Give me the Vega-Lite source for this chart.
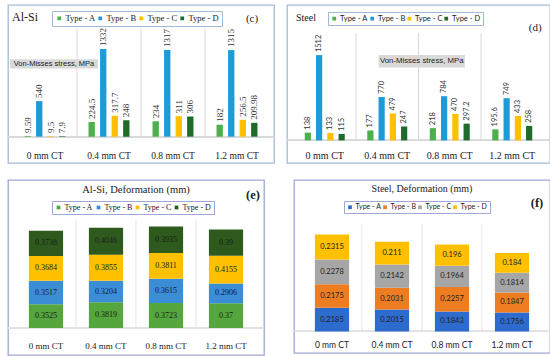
{
  "$schema": "https://vega.github.io/schema/vega-lite/v6.json",
  "background": "white",
  "padding": {"left": 6, "top": 4, "right": 0, "bottom": 0},
  "spacing": 15,
  "datasets": {
    "alsiStress": [
      {"ct": "0 mm CT", "type": "Type - A", "v": 9.59},
      {"ct": "0 mm CT", "type": "Type - B", "v": 540},
      {"ct": "0 mm CT", "type": "Type - C", "v": 9.5},
      {"ct": "0 mm CT", "type": "Type - D", "v": 7.9},
      {"ct": "0.4 mm CT", "type": "Type - A", "v": 224.5},
      {"ct": "0.4 mm CT", "type": "Type - B", "v": 1332},
      {"ct": "0.4 mm CT", "type": "Type - C", "v": 317.7},
      {"ct": "0.4 mm CT", "type": "Type - D", "v": 248},
      {"ct": "0.8 mm CT", "type": "Type - A", "v": 234},
      {"ct": "0.8 mm CT", "type": "Type - B", "v": 1317},
      {"ct": "0.8 mm CT", "type": "Type - C", "v": 311},
      {"ct": "0.8 mm CT", "type": "Type - D", "v": 306},
      {"ct": "1.2 mm CT", "type": "Type - A", "v": 182},
      {"ct": "1.2 mm CT", "type": "Type - B", "v": 1315},
      {"ct": "1.2 mm CT", "type": "Type - C", "v": 256.5},
      {"ct": "1.2 mm CT", "type": "Type - D", "v": 209.98}
    ],
    "steelStress": [
      {"ct": "0 mm CT", "type": "Type - A", "v": 138},
      {"ct": "0 mm CT", "type": "Type - B", "v": 1512},
      {"ct": "0 mm CT", "type": "Type - C", "v": 133},
      {"ct": "0 mm CT", "type": "Type - D", "v": 115},
      {"ct": "0.4 mm CT", "type": "Type - A", "v": 177},
      {"ct": "0.4 mm CT", "type": "Type - B", "v": 770},
      {"ct": "0.4 mm CT", "type": "Type - C", "v": 479},
      {"ct": "0.4 mm CT", "type": "Type - D", "v": 247},
      {"ct": "0.8 mm CT", "type": "Type - A", "v": 218},
      {"ct": "0.8 mm CT", "type": "Type - B", "v": 784},
      {"ct": "0.8 mm CT", "type": "Type - C", "v": 470},
      {"ct": "0.8 mm CT", "type": "Type - D", "v": 297.2},
      {"ct": "1.2 mm CT", "type": "Type - A", "v": 195.6},
      {"ct": "1.2 mm CT", "type": "Type - B", "v": 749},
      {"ct": "1.2 mm CT", "type": "Type - C", "v": 433},
      {"ct": "1.2 mm CT", "type": "Type - D", "v": 258}
    ],
    "alsiDef": [
      {"ct": "0 mm CT", "type": "Type - A", "v": 0.3525},
      {"ct": "0 mm CT", "type": "Type - B", "v": 0.3517},
      {"ct": "0 mm CT", "type": "Type - C", "v": 0.3684},
      {"ct": "0 mm CT", "type": "Type - D", "v": 0.3738},
      {"ct": "0.4 mm CT", "type": "Type - A", "v": 0.3819},
      {"ct": "0.4 mm CT", "type": "Type - B", "v": 0.3204},
      {"ct": "0.4 mm CT", "type": "Type - C", "v": 0.3855},
      {"ct": "0.4 mm CT", "type": "Type - D", "v": 0.4046},
      {"ct": "0.8 mm CT", "type": "Type - A", "v": 0.3723},
      {"ct": "0.8 mm CT", "type": "Type - B", "v": 0.3615},
      {"ct": "0.8 mm CT", "type": "Type - C", "v": 0.3811},
      {"ct": "0.8 mm CT", "type": "Type - D", "v": 0.3935},
      {"ct": "1.2 mm CT", "type": "Type - A", "v": 0.37},
      {"ct": "1.2 mm CT", "type": "Type - B", "v": 0.2906},
      {"ct": "1.2 mm CT", "type": "Type - C", "v": 0.4155},
      {"ct": "1.2 mm CT", "type": "Type - D", "v": 0.39}
    ],
    "steelDef": [
      {"ct": "0 mm CT", "type": "Type - A", "v": 0.2185},
      {"ct": "0 mm CT", "type": "Type - B", "v": 0.2175},
      {"ct": "0 mm CT", "type": "Type - C", "v": 0.2278},
      {"ct": "0 mm CT", "type": "Type - D", "v": 0.2315},
      {"ct": "0.4 mm CT", "type": "Type - A", "v": 0.2015},
      {"ct": "0.4 mm CT", "type": "Type - B", "v": 0.2031},
      {"ct": "0.4 mm CT", "type": "Type - C", "v": 0.2142},
      {"ct": "0.4 mm CT", "type": "Type - D", "v": 0.211},
      {"ct": "0.8 mm CT", "type": "Type - A", "v": 0.1843},
      {"ct": "0.8 mm CT", "type": "Type - B", "v": 0.2257},
      {"ct": "0.8 mm CT", "type": "Type - C", "v": 0.1964},
      {"ct": "0.8 mm CT", "type": "Type - D", "v": 0.196},
      {"ct": "1.2 mm CT", "type": "Type - A", "v": 0.1756},
      {"ct": "1.2 mm CT", "type": "Type - B", "v": 0.1847},
      {"ct": "1.2 mm CT", "type": "Type - C", "v": 0.1814},
      {"ct": "1.2 mm CT", "type": "Type - D", "v": 0.184}
    ],
    "seps": [{"ct": "0.4 mm CT"}, {"ct": "0.8 mm CT"}, {"ct": "1.2 mm CT"}]
  },
  "resolve": {"scale": {"color": "independent", "x": "independent", "y": "independent", "xOffset": "independent"}, "legend": {"color": "independent"}},
  "vconcat": [
    {
      "spacing": 9,
      "resolve": {"scale": {"color": "independent", "x": "independent", "y": "independent", "xOffset": "independent"}, "legend": {"color": "independent"}},
      "hconcat": [
        {
          "width": 266, "height": 158,
          "title": {"text": "Al-Si", "anchor": "start", "frame": "group", "offset": -19, "dx": 4, "font": "Liberation Serif", "fontSize": 12, "fontWeight": "normal", "color": "#1a1a1a"},
          "data": {"name": "alsiStress"},
          "layer": [
            {
              "data": {"name": "seps"},
              "mark": {"type": "rule", "color": "#d9d9d9", "strokeWidth": 1},
              "encoding": {
                "x": {"field": "ct", "type": "nominal", "bandPosition": 0,
                  "scale": {"domain": ["0 mm CT", "0.4 mm CT", "0.8 mm CT", "1.2 mm CT"], "paddingInner": 0, "paddingOuter": 0.078},
                  "axis": {"title": null, "domain": false, "ticks": false, "grid": false, "labelAngle": 0, "labelFont": "Liberation Serif", "labelFontSize": 9.5, "labelColor": "#222", "offset": -13, "labelPadding": 0}},
                "y": {"datum": 0, "type": "quantitative", "scale": {"domain": [-269, 1969]}, "axis": null},
                "y2": {"datum": 1640}
              }
            },
            {
              "mark": {"type": "rule", "color": "#d9d9d9"},
              "encoding": {"y": {"datum": 0, "type": "quantitative"}}
            },
            {
              "mark": {"type": "bar"},
              "encoding": {
                "x": {"field": "ct", "type": "nominal"},
                "xOffset": {"field": "type", "type": "nominal", "scale": {"paddingInner": 0.45, "paddingOuter": 1}},
                "y": {"field": "v", "type": "quantitative"},
                "y2": {"datum": 0},
                "color": {"field": "type", "type": "nominal",
                  "scale": {"domain": ["Type - A", "Type - B", "Type - C", "Type - D"], "range": ["#4cb04c", "#1e9bd7", "#ffc000", "#1f6b2a"]},
                  "legend": {"orient": "none", "legendX": 44, "legendY": 6, "direction": "horizontal", "title": null, "labelFont": "Liberation Serif", "labelFontSize": 8.5, "labelColor": "#222", "symbolType": "square", "symbolSize": 14, "strokeColor": "#9dbad6", "fillColor": "white", "padding": 3, "columnPadding": 0, "labelOffset": 2}}
              }
            },
            {
              "mark": {"type": "text", "angle": 270, "align": "left", "baseline": "middle", "dx": 3, "font": "Liberation Serif", "fontSize": 9, "color": "#333"},
              "encoding": {
                "x": {"field": "ct", "type": "nominal"},
                "xOffset": {"field": "type", "type": "nominal"},
                "y": {"field": "v", "type": "quantitative"},
                "text": {"field": "v", "type": "nominal"}
              }
            },
            {
              "data": {"values": [{"ct": "0 mm CT"}]},
              "mark": {"type": "bar", "color": "#d9d9d9", "width": {"band": 1.375}, "xOffset": 9},
              "encoding": {
                "x": {"field": "ct", "type": "nominal"},
                "y": {"datum": 1176, "type": "quantitative"},
                "y2": {"datum": 1034}
              }
            },
            {
              "data": {"values": [{"ct": "0 mm CT", "t": "Von-Misses stress, MPa"}]},
              "mark": {"type": "text", "xOffset": 9, "font": "Liberation Sans", "fontSize": 7.5, "color": "#222", "baseline": "middle"},
              "encoding": {
                "x": {"field": "ct", "type": "nominal"},
                "y": {"datum": 1105, "type": "quantitative"},
                "text": {"field": "t"}
              }
            },
            {
              "data": {"values": [{"ct": "1.2 mm CT", "t": "(c)"}]},
              "mark": {"type": "text", "xOffset": 15, "font": "Liberation Serif", "fontSize": 11, "color": "#222", "baseline": "middle"},
              "encoding": {
                "x": {"field": "ct", "type": "nominal"},
                "y": {"datum": 1785, "type": "quantitative"},
                "text": {"field": "t"}
              }
            }
          ]
        },
        {
          "width": 263, "height": 158,
          "title": {"text": "Steel", "anchor": "start", "frame": "group", "offset": -18, "dx": 9, "font": "Liberation Serif", "fontSize": 10, "fontWeight": "normal", "color": "#1a1a1a"},
          "data": {"name": "steelStress"},
          "layer": [
            {
              "data": {"name": "seps"},
              "mark": {"type": "rule", "color": "#d9d9d9", "strokeWidth": 1},
              "encoding": {
                "x": {"field": "ct", "type": "nominal", "bandPosition": 0,
                  "scale": {"domain": ["0 mm CT", "0.4 mm CT", "0.8 mm CT", "1.2 mm CT"], "paddingInner": 0, "paddingOuter": 0.104},
                  "axis": {"title": null, "domain": false, "ticks": false, "grid": false, "labelAngle": 0, "labelFont": "Liberation Serif", "labelFontSize": 10, "labelColor": "#222", "offset": -13, "labelPadding": 0}},
                "y": {"datum": 0, "type": "quantitative", "scale": {"domain": [-283, 2205]}, "axis": null},
                "y2": {"datum": 1900}
              }
            },
            {
              "mark": {"type": "rule", "color": "#d9d9d9"},
              "encoding": {"y": {"datum": 0, "type": "quantitative"}}
            },
            {
              "mark": {"type": "bar"},
              "encoding": {
                "x": {"field": "ct", "type": "nominal"},
                "xOffset": {"field": "type", "type": "nominal", "scale": {"paddingInner": 0.45, "paddingOuter": 1}},
                "y": {"field": "v", "type": "quantitative"},
                "y2": {"datum": 0},
                "color": {"field": "type", "type": "nominal",
                  "scale": {"domain": ["Type - A", "Type - B", "Type - C", "Type - D"], "range": ["#4cb04c", "#1e9bd7", "#ffc000", "#1f6b2a"]},
                  "legend": {"orient": "none", "legendX": 41, "legendY": 7, "direction": "horizontal", "title": null, "labelFont": "Lato", "labelFontSize": 7.5, "labelColor": "#222", "symbolType": "square", "symbolSize": 14, "strokeColor": "#9dbad6", "fillColor": "white", "padding": 2.5, "columnPadding": 0, "labelOffset": 2}}
              }
            },
            {
              "mark": {"type": "text", "angle": 270, "align": "left", "baseline": "middle", "dx": 3, "font": "Lato", "fontSize": 7.5, "color": "#333"},
              "encoding": {
                "x": {"field": "ct", "type": "nominal"},
                "xOffset": {"field": "type", "type": "nominal"},
                "y": {"field": "v", "type": "quantitative"},
                "text": {"field": "v", "type": "nominal"}
              }
            },
            {
              "data": {"values": [{"ct": "0.4 mm CT"}]},
              "mark": {"type": "bar", "color": "#d9d9d9", "width": {"band": 1.38}, "xOffset": 34.5},
              "encoding": {
                "x": {"field": "ct", "type": "nominal"},
                "y": {"datum": 1512, "type": "quantitative"},
                "y2": {"datum": 1291}
              }
            },
            {
              "data": {"values": [{"ct": "0.4 mm CT", "t": "Von-Misses stress, MPa"}]},
              "mark": {"type": "text", "xOffset": 34.5, "font": "Liberation Sans", "fontSize": 7.8, "color": "#222", "baseline": "middle"},
              "encoding": {
                "x": {"field": "ct", "type": "nominal"},
                "y": {"datum": 1402, "type": "quantitative"},
                "text": {"field": "t"}
              }
            },
            {
              "data": {"values": [{"ct": "1.2 mm CT", "t": "(d)"}]},
              "mark": {"type": "text", "xOffset": 23, "font": "Liberation Serif", "fontSize": 11, "color": "#222", "baseline": "middle"},
              "encoding": {
                "x": {"field": "ct", "type": "nominal"},
                "y": {"datum": 2000, "type": "quantitative"},
                "text": {"field": "t"}
              }
            }
          ]
        }
      ]
    },
    {
      "spacing": 26,
      "resolve": {"scale": {"color": "independent", "x": "independent", "y": "independent"}, "legend": {"color": "independent"}},
      "hconcat": [
        {
          "width": 256, "height": 175,
          "view": {"stroke": "#9ea8d6"},
          "title": {"text": "Al-Si, Deformation (mm)", "anchor": "middle", "frame": "group", "offset": -15, "font": "Liberation Serif", "fontSize": 10.5, "fontWeight": "normal", "color": "#222"},
          "data": {"name": "alsiDef"},
          "layer": [
            {
              "data": {"name": "seps"},
              "mark": {"type": "rule", "color": "#e6e6e6", "strokeWidth": 1},
              "encoding": {
                "x": {"field": "ct", "type": "nominal", "bandPosition": -0.38,
                  "scale": {"domain": ["0 mm CT", "0.4 mm CT", "0.8 mm CT", "1.2 mm CT"], "paddingInner": 0.43, "paddingOuter": 0.348},
                  "axis": {"title": null, "domain": false, "ticks": false, "grid": false, "labelAngle": 0, "labelFont": "Liberation Serif", "labelFontSize": 9, "labelColor": "#222", "offset": -14, "labelPadding": 0}},
                "y": {"datum": 0, "type": "quantitative", "scale": {"domain": [-0.284, 2.164]}, "axis": null},
                "y2": {"datum": 1.61}
              }
            },
            {
              "mark": {"type": "rule", "color": "#e0e0e0"},
              "encoding": {"y": {"datum": 0, "type": "quantitative"}}
            },
            {
              "mark": {"type": "bar"},
              "encoding": {
                "x": {"field": "ct", "type": "nominal"},
                "y": {"field": "v", "type": "quantitative", "stack": "zero"},
                "order": {"field": "type", "sort": "ascending"},
                "color": {"field": "type", "type": "nominal",
                  "scale": {"domain": ["Type - A", "Type - B", "Type - C", "Type - D"], "range": ["#55a63c", "#3b8ed6", "#ffc000", "#2e5a1e"]},
                  "legend": {"orient": "none", "legendX": 44, "legendY": 21, "direction": "horizontal", "title": null, "labelFont": "Liberation Serif", "labelFontSize": 8, "labelColor": "#222", "symbolType": "square", "symbolSize": 14, "strokeColor": "#9ea8d6", "fillColor": "white", "padding": 2.5, "columnPadding": 1, "labelOffset": 2}}
              }
            },
            {
              "mark": {"type": "text", "font": "Liberation Serif", "fontSize": 8, "color": "#1a1a1a", "baseline": "middle"},
              "encoding": {
                "x": {"field": "ct", "type": "nominal"},
                "y": {"field": "v", "type": "quantitative", "stack": "zero", "bandPosition": 0.5},
                "detail": {"field": "type"},
                "order": {"field": "type", "sort": "ascending"},
                "text": {"field": "v", "type": "nominal"}
              }
            },
            {
              "data": {"values": [{"ct": "1.2 mm CT", "t": "(e)"}]},
              "mark": {"type": "text", "xOffset": 27, "font": "Liberation Serif", "fontSize": 12.5, "fontWeight": "bold", "color": "#222", "baseline": "middle"},
              "encoding": {
                "x": {"field": "ct", "type": "nominal"},
                "y": {"datum": 1.98, "type": "quantitative"},
                "text": {"field": "t"}
              }
            }
          ]
        },
        {
          "width": 256, "height": 173,
          "view": {"stroke": "#9ea8d6"},
          "title": {"text": "Steel, Deformation (mm)", "anchor": "middle", "frame": "group", "offset": -14, "font": "Liberation Serif", "fontSize": 10, "fontWeight": "normal", "color": "#222"},
          "data": {"name": "steelDef"},
          "layer": [
            {
              "data": {"name": "seps"},
              "mark": {"type": "rule", "color": "#e6e6e6", "strokeWidth": 1},
              "encoding": {
                "x": {"field": "ct", "type": "nominal", "bandPosition": -0.38,
                  "scale": {"domain": ["0 mm CT", "0.4 mm CT", "0.8 mm CT", "1.2 mm CT"], "paddingInner": 0.43, "paddingOuter": 0.348},
                  "axis": {"title": null, "domain": false, "ticks": false, "grid": false, "labelAngle": 0, "labelFont": "Lato", "labelFontSize": 8.5, "labelColor": "#222", "offset": -13, "labelPadding": 0}},
                "y": {"datum": 0, "type": "quantitative", "scale": {"domain": [-0.148, 1.335]}, "axis": null},
                "y2": {"datum": 1.0}
              }
            },
            {
              "mark": {"type": "rule", "color": "#e0e0e0"},
              "encoding": {"y": {"datum": 0, "type": "quantitative"}}
            },
            {
              "mark": {"type": "bar"},
              "encoding": {
                "x": {"field": "ct", "type": "nominal"},
                "y": {"field": "v", "type": "quantitative", "stack": "zero"},
                "order": {"field": "type", "sort": "ascending"},
                "color": {"field": "type", "type": "nominal",
                  "scale": {"domain": ["Type - A", "Type - B", "Type - C", "Type - D"], "range": ["#2e6bcf", "#ee7d22", "#a6a6a6", "#ffc000"]},
                  "legend": {"orient": "none", "legendX": 50, "legendY": 21, "direction": "horizontal", "title": null, "labelFont": "Lato", "labelFontSize": 7, "labelColor": "#222", "symbolType": "square", "symbolSize": 14, "strokeColor": "#9ea8d6", "fillColor": "white", "padding": 2.5, "columnPadding": 0, "labelOffset": 2}}
              }
            },
            {
              "mark": {"type": "text", "font": "Lato", "fontSize": 7.5, "color": "#222", "baseline": "middle"},
              "encoding": {
                "x": {"field": "ct", "type": "nominal"},
                "y": {"field": "v", "type": "quantitative", "stack": "zero", "bandPosition": 0.5},
                "detail": {"field": "type"},
                "order": {"field": "type", "sort": "ascending"},
                "text": {"field": "v", "type": "nominal"}
              }
            },
            {
              "data": {"values": [{"ct": "1.2 mm CT", "t": "(f)"}]},
              "mark": {"type": "text", "xOffset": 25, "font": "Liberation Serif", "fontSize": 12.5, "fontWeight": "bold", "color": "#222", "baseline": "middle"},
              "encoding": {
                "x": {"field": "ct", "type": "nominal"},
                "y": {"datum": 1.19, "type": "quantitative"},
                "text": {"field": "t"}
              }
            }
          ]
        }
      ]
    }
  ],
  "config": {
    "view": {"stroke": "#a3bcd8", "strokeWidth": 1.3},
    "legend": {"labelLimit": 200}
  }
}
